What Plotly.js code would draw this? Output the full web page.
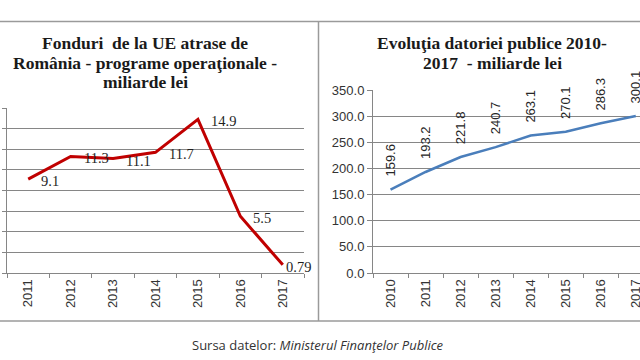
<!DOCTYPE html>
<html><head><meta charset="utf-8">
<script src="https://cdn.plot.ly/plotly-3.0.1.min.js"></script>
<style>html,body{margin:0;padding:0;background:#fff;overflow:hidden}</style>
</head><body><div id="chart" style="width:640px;height:360px"></div>
<script>
const fundYears = ['2011','2012','2013','2014','2015','2016','2017'];
const fundValues = [9.1, 11.3, 11.1, 11.7, 14.9, 5.5, 0.79];
const fundLabels = ['9.1','11.3','11.1','11.7','14.9','5.5','0.79'];
const debtYears = ['2010','2011','2012','2013','2014','2015','2016','2017'];
const debtValues = [159.6, 193.2, 221.8, 240.7, 263.1, 270.1, 286.3, 300.1];
const debtLabels = ['159.6','193.2','221.8','240.7','263.1','270.1','286.3','300.1'];
const debtTicks = [0, 50, 100, 150, 200, 250, 300, 350];

const W = 640, H = 360;
const px = x => x / W;
const py = y => 1 - y / H;
const grid = '#868686';
const tickFont = {family: 'Liberation Sans, Arial, sans-serif', size: 13, color: '#333333'};
const labelFont = {family: 'Liberation Sans, Arial, sans-serif', size: 13, color: '#262626'};
const leftLabelFont = {family: 'Liberation Serif, Times New Roman, serif', size: 14.5, color: '#1f1f1f'};
const titleFont = {family: 'Liberation Serif, Times New Roman, serif', size: 17.5, color: '#1a1a1a', weight: 'bold'};

const traces = [
  {x: fundYears, y: fundValues, type: 'scatter', mode: 'lines', xaxis: 'x', yaxis: 'y',
   line: {color: '#c00000', width: 3}, hoverinfo: 'skip'},
  {x: debtYears, y: debtValues, type: 'scatter', mode: 'lines', xaxis: 'x2', yaxis: 'y2',
   line: {color: '#4a7ebb', width: 2.5}, hoverinfo: 'skip'}
];

const annotations = [];
// category axes: annotation x is the category's index
fundYears.forEach((yr, i) => {
  annotations.push({x: i, y: fundValues[i], xref: 'x', yref: 'y', text: fundLabels[i],
    showarrow: false, xanchor: 'left', yanchor: 'middle',
    xshift: i === fundYears.length - 1 ? 1 : 11, yshift: -2, font: leftLabelFont});
});
debtYears.forEach((yr, i) => {
  annotations.push({x: i, y: debtValues[i], xref: 'x2', yref: 'y2', text: debtLabels[i],
    showarrow: false, textangle: -90, xanchor: 'center', yanchor: 'bottom',
    yshift: 11, font: labelFont});
});
const leftTitle = ['Fonduri\u00a0 de la UE atrase de', 'România - programe operaţionale -', 'miliarde lei'];
const leftTitleY = [43, 63, 82];
leftTitle.forEach((t, i) => annotations.push({x: px(145), y: py(leftTitleY[i]), xref: 'paper', yref: 'paper',
  text: t, showarrow: false, xanchor: 'center', yanchor: 'middle', font: titleFont}));
const rightTitle = ['Evoluţia datoriei publice 2010-', '2017\u00a0 - miliarde lei'];
const rightTitleY = [43, 63];
rightTitle.forEach((t, i) => annotations.push({x: px(492), y: py(rightTitleY[i]), xref: 'paper', yref: 'paper',
  text: t, showarrow: false, xanchor: 'center', yanchor: 'middle', font: titleFont}));
annotations.push({x: px(318), y: py(345), xref: 'paper', yref: 'paper',
  text: 'Sursa datelor: <i>Ministerul Finanţelor Publice</i>', showarrow: false,
  xanchor: 'center', yanchor: 'middle',
  font: {family: 'Liberation Sans Narrow, Open Sans, sans-serif', size: 13, color: '#333333'}});

const border = '#9a9a9a';
const shapes = [
  {type: 'line', xref: 'paper', yref: 'paper', x0: 0, x1: 1, y0: py(21.5), y1: py(21.5), line: {color: border, width: 1.5}},
  {type: 'line', xref: 'paper', yref: 'paper', x0: 0, x1: 1, y0: py(321), y1: py(321), line: {color: border, width: 1.5}},
  {type: 'line', xref: 'paper', yref: 'paper', x0: px(318.5), x1: px(318.5), y0: py(21.5), y1: py(321), line: {color: border, width: 1.5}}
];

const commonX = {type: 'category', showline: true, linecolor: grid, ticks: 'outside', tickson: 'boundaries',
  ticklen: 4, tickcolor: grid, tickangle: -90, tickfont: tickFont, showgrid: false, fixedrange: true};
const commonY = {showgrid: true, gridcolor: grid, gridwidth: 1, showline: true, linecolor: grid,
  ticks: 'outside', ticklen: 4, tickcolor: grid, zeroline: false, fixedrange: true};

const layout = {
  width: W, height: H, margin: {l: 0, r: 0, t: 0, b: 0},
  paper_bgcolor: '#ffffff', plot_bgcolor: '#ffffff', showlegend: false,
  xaxis: Object.assign({}, commonX, {domain: [px(7), px(304)], anchor: 'y', range: [-0.5, 6.5]}),
  yaxis: Object.assign({}, commonY, {domain: [py(273), py(108)], anchor: 'x', range: [0, 16], dtick: 2, showticklabels: false}),
  xaxis2: Object.assign({}, commonX, {domain: [px(373), 1], anchor: 'y2', range: [-0.5, 7.12]}),
  yaxis2: Object.assign({}, commonY, {domain: [py(273), py(90)], anchor: 'x2', range: [0, 350],
    tickvals: debtTicks, tickformat: '.1f', tickfont: tickFont, ticklen: 5}),
  annotations: annotations, shapes: shapes
};
Plotly.newPlot('chart', traces, layout, {displayModeBar: false, staticPlot: true});
</script></body></html>
